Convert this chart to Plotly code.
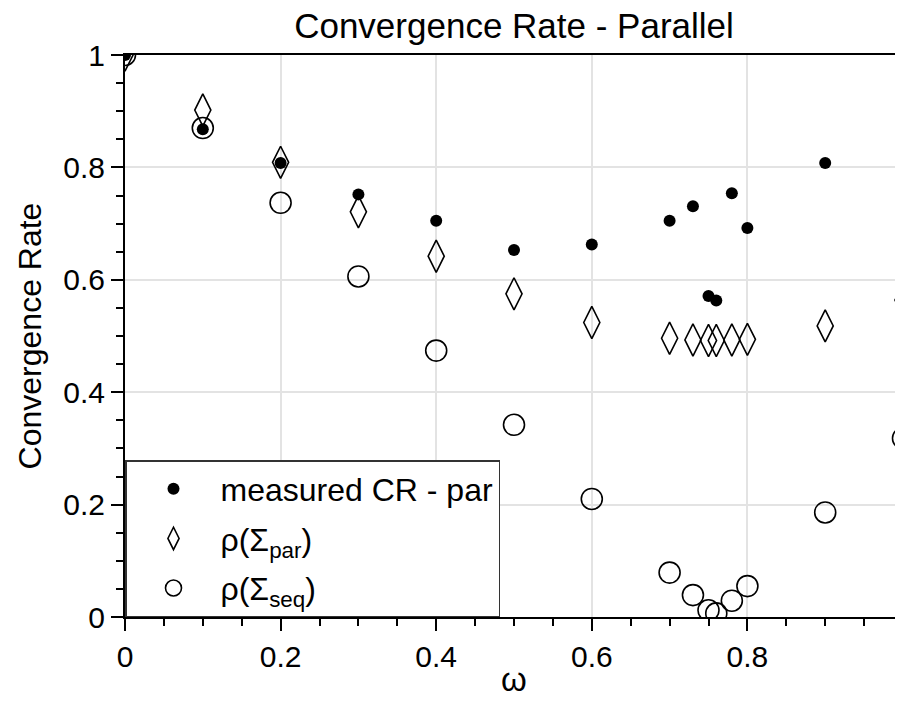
import plotly.graph_objects as go

# omega values
omega = [0.0, 0.1, 0.2, 0.3, 0.4, 0.5, 0.6, 0.7, 0.73, 0.75, 0.76, 0.78, 0.8, 0.9, 1.0]

# measured convergence rate (parallel); no point shown at omega = 1
measured_x = [0.0, 0.1, 0.2, 0.3, 0.4, 0.5, 0.6, 0.7, 0.73, 0.75, 0.76, 0.78, 0.8, 0.9]
measured_cr = [1.0, 0.868, 0.808, 0.752, 0.705, 0.653, 0.663, 0.705, 0.731, 0.571, 0.563, 0.754, 0.692, 0.808]

# spectral radius of Sigma_par
rho_par = [1.0, 0.902, 0.809, 0.721, 0.642, 0.575, 0.524, 0.496, 0.493, 0.492, 0.492, 0.493, 0.494, 0.518, 0.564]

# spectral radius of Sigma_seq
rho_seq = [1.0, 0.870, 0.737, 0.606, 0.474, 0.342, 0.210, 0.079, 0.039, 0.012, 0.0065, 0.029, 0.055, 0.186, 0.318]

x_ticks = [0, 0.2, 0.4, 0.6, 0.8, 1]
x_ticktext = ["0", "0.2", "0.4", "0.6", "0.8", "1"]
y_ticks = [0, 0.2, 0.4, 0.6, 0.8, 1]
y_ticktext = ["0", "0.2", "0.4", "0.6", "0.8", "1"]

FONT = "Liberation Sans, Arial, Helvetica, sans-serif"

fig = go.Figure()
fig.add_trace(go.Scatter(
    x=measured_x, y=measured_cr, mode="markers", name="measured CR - par", legendgroup="a",
    marker=dict(symbol="circle", size=12, color="black", line=dict(width=0)),
))
fig.add_trace(go.Scatter(
    x=omega, y=rho_par, mode="markers", name="ρ(Σ<sub>par</sub>)", legendgroup="b",
    marker=dict(symbol="diamond-tall-open", size=23, color="black", line=dict(width=1.6, color="black")),
))
fig.add_trace(go.Scatter(
    x=omega, y=rho_seq, mode="markers", name="ρ(Σ<sub>seq</sub>)", legendgroup="c",
    marker=dict(symbol="circle-open", size=21, color="black", line=dict(width=1.6, color="black")),
))

axis_common = dict(
    showgrid=True, gridcolor="#e3e3e3", gridwidth=1.5,
    showline=True, linecolor="black", linewidth=2,
    ticks="outside", ticklen=12, tickwidth=2, tickcolor="black",
    tickfont=dict(family=FONT, size=30, color="black"),
    zeroline=False, automargin=False,
)

# The page body adds an 8 px offset, so the figure is laid out 8 px smaller / shifted.
fig.update_layout(
    width=895, height=690,
    margin=dict(l=117, r=0, t=47, b=81, pad=0),
    plot_bgcolor="white", paper_bgcolor="white",
    font=dict(family=FONT, color="black"),
    title=dict(text="Convergence Rate - Parallel", x=0.5, xref="paper", xanchor="center",
               y=1 - 18 / 690, yref="container", yanchor="middle",
               font=dict(family=FONT, size=35, color="black")),
    xaxis=dict(
        range=[0, 1], tickvals=x_ticks, ticktext=x_ticktext, mirror=True,
        ticklabeloverflow="allow",
        title=dict(text="ω", font=dict(family=FONT, size=33, color="black"), standoff=12),
        minor=dict(dtick=0.05, ticks="outside", ticklen=7, tickwidth=1.5, tickcolor="black", showgrid=False),
        **axis_common,
    ),
    yaxis=dict(
        range=[0, 1], tickvals=y_ticks, ticktext=y_ticktext,
        title=dict(text="Convergence Rate", font=dict(family=FONT, size=32, color="black"), standoff=12),
        minor=dict(dtick=0.05, ticks="outside", ticklen=7, tickwidth=1.5, tickcolor="black", showgrid=False),
        **axis_common,
    ),
    legend=dict(
        x=0, y=0, xanchor="left", yanchor="bottom", xref="paper", yref="paper",
        bgcolor="white", bordercolor="#333333", borderwidth=1.5,
        font=dict(family=FONT, size=32, color="black"),
        itemwidth=84, tracegroupgap=5,
    ),
    showlegend=True,
)

fig.write_html("out.html")
